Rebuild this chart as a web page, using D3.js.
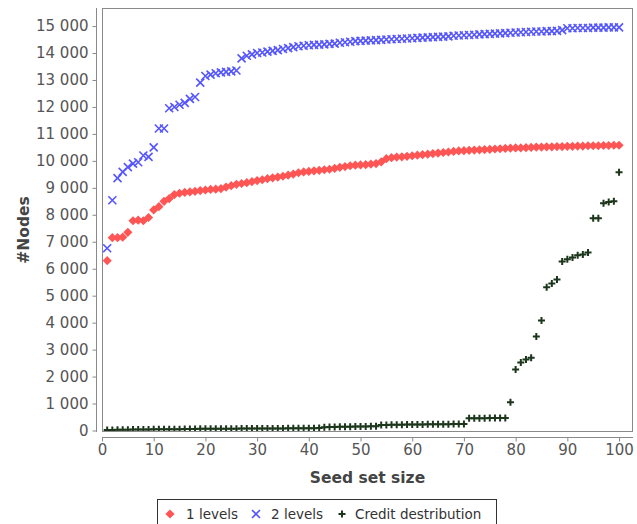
<!DOCTYPE html>
<html>
<head>
<meta charset="utf-8">
<script src="https://cdn.jsdelivr.net/npm/d3@7"></script>
<style>
  html, body { margin: 0; padding: 0; background: #ffffff; }
  svg { display: block; }
</style>
</head>
<body>
<svg id="chart" width="637" height="524"></svg>
<script>
// ---------- data ----------
const seedSizes = d3.range(1, 101);

const levels1 = [6300,7150,7150,7170,7350,7780,7800,7780,7900,8180,
 8300,8500,8600,8750,8800,8830,8850,8870,8900,8920,
 8940,8950,8970,9030,9080,9130,9160,9190,9230,9270,
 9300,9340,9370,9400,9430,9470,9510,9560,9590,9610,
 9630,9650,9670,9690,9720,9760,9790,9820,9840,9850,
 9860,9880,9900,9960,10080,10120,10140,10150,10170,10190,
 10210,10230,10250,10270,10290,10310,10330,10350,10370,10380,
 10390,10400,10410,10420,10430,10440,10450,10460,10470,10480,
 10480,10490,10500,10510,10510,10520,10520,10530,10530,10540,
 10540,10550,10550,10560,10560,10560,10570,10570,10580,10580];

const levels2 = [6760,8540,9360,9590,9770,9900,9950,10200,10150,10500,
 11200,11200,11950,12000,12080,12150,12300,12370,12900,13150,
 13200,13250,13280,13300,13320,13350,13800,13900,13950,14000,
 14020,14050,14080,14110,14150,14180,14220,14250,14270,14290,
 14300,14310,14320,14340,14350,14380,14400,14420,14440,14450,
 14460,14470,14480,14490,14500,14510,14520,14530,14540,14550,
 14560,14570,14580,14590,14600,14610,14620,14640,14650,14660,
 14670,14680,14690,14700,14710,14720,14730,14740,14750,14760,
 14770,14780,14790,14800,14800,14810,14810,14820,14850,14920,
 14920,14930,14930,14930,14940,14940,14940,14950,14950,14950];

const creditDist = [15,20,25,30,30,35,35,40,40,45,
 45,45,50,50,50,55,55,55,60,60,
 60,60,65,65,65,65,70,70,70,70,
 70,75,75,75,75,80,80,80,80,85,
 85,90,120,125,130,135,140,140,145,150,
 150,155,160,200,205,210,210,215,220,220,
 225,225,230,230,230,235,235,240,240,245,
 450,450,455,455,460,460,460,465,1050,2260,
 2520,2630,2700,3490,4080,5310,5450,5600,6270,6350,
 6420,6500,6530,6600,7870,7870,8430,8470,8500,9580];

const seriesNames = ["1 levels", "2 levels", "Credit destribution"];
const xTicks = [0,10,20,30,40,50,60,70,80,90,100];
const yTicks = d3.range(0, 15001, 1000);
const xTitle = "Seed set size";
const yTitle = "#Nodes";

// ---------- layout ----------
const svg = d3.select("#chart");
const plot = {left: 102, top: 8, right: 633, bottom: 432};
const colors = ["#ff5555", "#5555ff", "#1c361c"];

const x = d3.scaleLinear().domain([0, 102.7]).range([plot.left, plot.right]);
const y = d3.scaleLinear().domain([-56, 15670]).range([plot.bottom, plot.top]);

const fmt = d3.formatLocale({decimal: ".", thousands: " ", grouping: [3], currency: ["", ""]}).format(",d");

// plot border
svg.append("rect")
  .attr("x", plot.left + 0.5).attr("y", plot.top + 0.5)
  .attr("width", plot.right - plot.left - 1).attr("height", plot.bottom - plot.top - 1)
  .attr("fill", "#ffffff").attr("stroke", "#8a8a8a").attr("stroke-width", 1);

// y axis (offset left)
const yAxis = svg.append("g")
  .attr("transform", `translate(${plot.left - 5.5},0)`)
  .call(d3.axisLeft(y).tickValues(yTicks).tickFormat(fmt).tickSize(4).tickPadding(4));
yAxis.select(".domain").attr("stroke", "#8a8a8a").attr("d", `M0,${plot.top}V${plot.bottom}`);
yAxis.selectAll(".tick line").attr("stroke", "#8a8a8a");
yAxis.selectAll("text").attr("font-family", "DejaVu Sans, sans-serif").attr("font-size", 15).attr("fill", "#555");

// x axis (offset down)
const xAxis = svg.append("g")
  .attr("transform", `translate(0,${plot.bottom + 5.5})`)
  .call(d3.axisBottom(x).tickValues(xTicks).tickSize(4).tickPadding(3));
xAxis.select(".domain").attr("stroke", "#8a8a8a").attr("d", `M${plot.left},0H${plot.right}`);
xAxis.selectAll(".tick line").attr("stroke", "#8a8a8a");
xAxis.selectAll("text").attr("font-family", "DejaVu Sans, sans-serif").attr("font-size", 15).attr("fill", "#555");

// axis titles
svg.append("text")
  .attr("x", (plot.left + plot.right) / 2).attr("y", 483)
  .attr("text-anchor", "middle")
  .attr("font-family", "DejaVu Sans, sans-serif").attr("font-weight", "bold").attr("font-size", 15.5)
  .attr("fill", "#444").text(xTitle);

svg.append("text")
  .attr("transform", `translate(29,${(plot.top + plot.bottom) / 2 + 10}) rotate(-90)`)
  .attr("text-anchor", "middle")
  .attr("font-family", "DejaVu Sans, sans-serif").attr("font-weight", "bold").attr("font-size", 15.5)
  .attr("fill", "#444").text(yTitle);

// ---------- markers ----------
const diamond = "M0,-4.6L4.6,0L0,4.6L-4.6,0Z";
const cross = "M-4,-4L4,4M-4,4L4,-4";
const plus = "M-3.5,0H3.5M0,-3.5V3.5";

function drawMarker(g, kind, color) {
  if (kind === 0) g.append("path").attr("d", diamond).attr("fill", color);
  else if (kind === 1) g.append("path").attr("d", cross).attr("stroke", color).attr("stroke-width", 1.6).attr("fill", "none");
  else g.append("path").attr("d", plus).attr("stroke", color).attr("stroke-width", 2).attr("fill", "none");
}

const clip = svg.append("clipPath").attr("id", "clipPlot")
  .append("rect").attr("x", plot.left + 1).attr("y", plot.top + 1)
  .attr("width", plot.right - plot.left - 2).attr("height", plot.bottom - plot.top - 2);

const dataArea = svg.append("g").attr("clip-path", "url(#clipPlot)");
const allSeries = [levels1, levels2, creditDist];

allSeries.forEach((vals, si) => {
  const g = dataArea.append("g");
  const pts = g.selectAll("g.pt").data(seedSizes.map((s, i) => ({s, v: vals[i]})))
    .enter().append("g").attr("class", "pt")
    .attr("transform", d => `translate(${x(d.s)},${y(d.v)})`);
  pts.each(function() { drawMarker(d3.select(this), si, colors[si]); });
});

// ---------- legend ----------
const legend = svg.append("g");
legend.append("rect").attr("x", 157.5).attr("y", 499.5).attr("width", 339).attr("height", 30)
  .attr("fill", "#fff").attr("stroke", "#333").attr("stroke-width", 1);
const legItems = [{mx: 170, tx: 186}, {mx: 256, tx: 271}, {mx: 342, tx: 355}];
legItems.forEach((it, i) => {
  const g = legend.append("g").attr("transform", `translate(${it.mx},514)`);
  drawMarker(g, i, colors[i]);
  legend.append("text").attr("x", it.tx).attr("y", 519)
    .attr("font-family", "DejaVu Sans, sans-serif").attr("font-size", 13.5).attr("fill", "#333")
    .text(seriesNames[i]);
});
</script>
</body>
</html>
